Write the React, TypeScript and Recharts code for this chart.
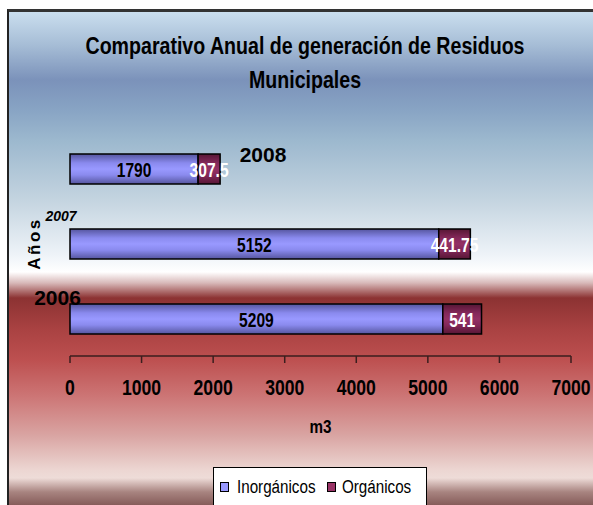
import React from 'react'
import { BarChart, Bar, XAxis, YAxis, LabelList, Label } from 'recharts'

const years = ['2006', '2007', '2008']
const inorganicos = [5209, 5152, 1790]
const organicos = [541, 441.75, 307.5]
const xTicks = [0, 1000, 2000, 3000, 4000, 5000, 6000, 7000]

const seriesNames = ['Inorgánicos', 'Orgánicos']
const seriesColors = ['#9999ff', '#993366']
const titleLines = ['Comparativo Anual de generación de Residuos', 'Municipales']

const data = years.map((year, i) => ({
  year,
  inorganicos: inorganicos[i],
  organicos: organicos[i],
}))

const ARIAL = "'Liberation Sans', Arial, sans-serif"
const SQUEEZE = 0.8 // fake Arial Narrow

// Arial text squeezed horizontally, since no narrow face is installed
const Narrow = ({ x, y, size, bold = true, fill = '#000', anchor = 'middle', baseline, children }: any) => (
  <text
    transform={`translate(${x},${y}) scale(${SQUEEZE},1)`}
    textAnchor={anchor}
    dominantBaseline={baseline}
    fontFamily={ARIAL}
    fontWeight={bold ? 'bold' : 'normal'}
    fontSize={size}
    fill={fill}
  >
    {children}
  </text>
)

// year labels are scattered around the plot in the original
const yearLabelStyle: Record<string, { dx: number; dy: number; size: number; italic: boolean }> = {
  '2008': { dx: 193, dy: -14.5, size: 21, italic: false },
  '2007': { dx: -9, dy: -27.5, size: 14, italic: true },
  '2006': { dx: -12.5, dy: -21, size: 21, italic: false },
}

const YearTick = (props: any) => {
  const { y, payload } = props
  const s = yearLabelStyle[payload.value] || { dx: 0, dy: 0, size: 14, italic: false }
  return (
    <text
      x={70 + s.dx}
      y={y + s.dy}
      textAnchor="middle"
      dominantBaseline="central"
      fontFamily={ARIAL}
      fontWeight="bold"
      fontStyle={s.italic ? 'italic' : 'normal'}
      fontSize={s.size}
      fill="#000"
    >
      {payload.value}
    </text>
  )
}

const ValueTick = (props: any) => {
  const { x, y, payload } = props
  return (
    <Narrow x={x} y={y + 15.8} size={22}>
      {payload.value}
    </Narrow>
  )
}

const AxisTitle = (props: any) => {
  const { viewBox } = props
  const cx = 34
  const cy = viewBox.y + viewBox.height / 2
  return (
    <text
      x={cx}
      y={cy}
      transform={`rotate(-90 ${cx} ${cy})`}
      textAnchor="middle"
      dominantBaseline="central"
      fontFamily={ARIAL}
      fontWeight="bold"
      fontSize={17}
      letterSpacing={2.5}
      fill="#000"
    >
      Años
    </text>
  )
}

const XTitle = (props: any) => {
  const { viewBox } = props
  return (
    <Narrow x={viewBox.x + viewBox.width / 2} y={433} size={19}>
      m3
    </Narrow>
  )
}

const barLabel = (fill: string) => (props: any) => {
  const { x, y, width, height, value } = props
  return (
    <Narrow x={x + width / 2} y={y + height / 2 + 1} size={19.5} fill={fill} baseline="central">
      {value}
    </Narrow>
  )
}

const background =
  'linear-gradient(to bottom, #cadeee 0px, #a6bdd6 33px, #7b92ba 68px, #88a4c4 98px, #9cb8ce 128px, #c4d4e0 188px, #eef3f8 243px, #ffffff 260px, #d8b8b8 271px, #8c3232 286px, #aa4242 318px, #bd5050 348px, #cc7474 383px, #d9a4a2 423px, #ecd6d2 458px, #eedcd8 466px, #a88480 480px, #865c5a 493px)'

export default function App() {
  return (
    <div style={{ position: 'absolute', left: 0, top: 0, width: 593, height: 505, background: '#fff', overflow: 'hidden' }}>
      <div
        style={{
          position: 'absolute',
          left: 7,
          top: 9,
          right: 0,
          bottom: 0,
          borderTop: '3px solid #333',
          borderLeft: '2px solid #222',
          background,
        }}
      />

      <div style={{ position: 'absolute', left: 0, top: 0 }}>
        <BarChart
          width={593}
          height={505}
          data={data}
          layout="vertical"
          margin={{ top: 131, right: 22, bottom: 72, left: 69 }}
        >
          <defs>
            <linearGradient id="gInorg" x1="0" y1="0" x2="0" y2="1">
              <stop offset="0%" stopColor="#55559e" />
              <stop offset="30%" stopColor="#8a8aee" />
              <stop offset="50%" stopColor="#9999ff" />
              <stop offset="70%" stopColor="#8a8aee" />
              <stop offset="100%" stopColor="#55559e" />
            </linearGradient>
            <linearGradient id="gOrg" x1="0" y1="0" x2="0" y2="1">
              <stop offset="0%" stopColor="#561634" />
              <stop offset="30%" stopColor="#84285a" />
              <stop offset="50%" stopColor="#933064" />
              <stop offset="70%" stopColor="#84285a" />
              <stop offset="100%" stopColor="#561634" />
            </linearGradient>
          </defs>
          <XAxis
            type="number"
            domain={[0, 7000]}
            ticks={xTicks}
            interval={0}
            height={77}
            axisLine={{ stroke: '#3a1e1e', strokeWidth: 1.5 }}
            tickLine={{ stroke: '#3a1e1e', strokeWidth: 1.5 }}
            tickSize={7}
            tickMargin={16}
            tick={<ValueTick />}
          >
            <Label content={<XTitle />} />
          </XAxis>
          <YAxis
            type="category"
            dataKey="year"
            reversed
            width={1}
            axisLine={false}
            tickLine={false}
            tick={<YearTick />}
          >
            <Label content={<AxisTitle />} />
          </YAxis>
          <Bar
            dataKey="inorganicos"
            name={seriesNames[0]}
            stackId="a"
            barSize={30}
            fill="url(#gInorg)"
            stroke="#000"
            strokeWidth={1.5}
            isAnimationActive={false}
          >
            <LabelList dataKey="inorganicos" content={barLabel('#000')} />
          </Bar>
          <Bar
            dataKey="organicos"
            name={seriesNames[1]}
            stackId="a"
            barSize={30}
            fill="url(#gOrg)"
            stroke="#000"
            strokeWidth={1.5}
            isAnimationActive={false}
          >
            <LabelList dataKey="organicos" content={barLabel('#fff')} />
          </Bar>
        </BarChart>
      </div>

      {/* title and legend drawn on top */}
      <svg width={593} height={505} style={{ position: 'absolute', left: 0, top: 0, pointerEvents: 'none' }}>
        <Narrow x={305} y={53.5} size={24.5}>
          {titleLines[0]}
        </Narrow>
        <Narrow x={305} y={87.5} size={24.5}>
          {titleLines[1]}
        </Narrow>
        <rect x={213.5} y={467.5} width={213} height={40} fill="#fff" stroke="#000" strokeWidth={1} />
        {seriesNames.map((name, i) => (
          <g key={name}>
            <rect
              x={i === 0 ? 220.5 : 327.5}
              y={482.5}
              width={8}
              height={9}
              fill={seriesColors[i]}
              stroke="#000"
              strokeWidth={1}
            />
            <Narrow x={i === 0 ? 237 : 342} y={493} size={19} bold={false} anchor="start">
              {name}
            </Narrow>
          </g>
        ))}
      </svg>
    </div>
  )
}
